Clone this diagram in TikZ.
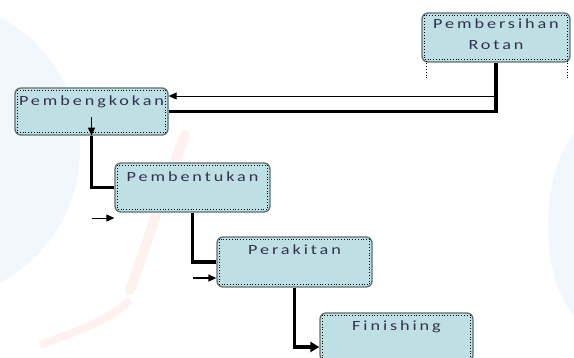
\documentclass[tikz,border=0pt]{standalone}
\usepackage{fontspec}
\setmainfont{Carlito}
\newfontfamily\boxfont[LetterSpace=16]{Carlito}
\usetikzlibrary{arrows.meta}
\definecolor{boxfill}{HTML}{BEE0E4}
\definecolor{boxline}{HTML}{5E6F70}
\definecolor{txtcol}{HTML}{35304F}
\definecolor{wmblue}{HTML}{F2F6FD}
\definecolor{wmorange}{HTML}{FDF2EF}
\newcommand{\bxt}[1]{\scalebox{1.3}[1]{#1}}
\tikzset{
  proc/.style={draw=boxline, line width=1.3pt, rounded corners=6pt, fill=boxfill, inner sep=0pt},
  inner/.style={dotted, line width=0.8pt, black},
  txt/.style={font=\boxfont\fontsize{14}{16}\selectfont, text=txtcol, inner sep=0pt},
  flow/.style={line width=3.6pt, black},
  thinarrow/.style={line width=0.9pt, black, -{Triangle[length=8pt,width=7pt]}},
  flowarrow/.style={line width=3.6pt, black, -{Triangle[length=9pt,width=10pt]}}
}
\begin{document}
\begin{tikzpicture}[x=1pt,y=-1pt]
\useasboundingbox (0,0) rectangle (574,358);
% faint background watermark
\fill[wmblue] (-70,150) circle (150);
\fill[wmblue] (600,225) ellipse [x radius=52, y radius=105];
\draw[wmorange, line width=10pt, line cap=round] (185,135) .. controls (160,200) and (145,250) .. (130,290);
\draw[wmorange, line width=8pt] (40,345) .. controls (80,330) and (110,320) .. (130,300);
% boxes
\node[proc, minimum width=148pt, minimum height=49pt] (b1) at (496,37.5) {};
\node[proc, minimum width=153pt, minimum height=47pt] (b2) at (91.5,111.5) {};
\node[proc, minimum width=155pt, minimum height=49pt] (b3) at (192.5,187.5) {};
\node[proc, minimum width=155pt, minimum height=50pt] (b4) at (294.5,262) {};
\node[proc, minimum width=153pt, minimum height=48pt] (b5) at (396.5,337) {};
% inner dotted frames
\foreach \b in {b1,b2,b3,b4,b5}{
  \draw[inner] ([shift={(3,3)}]\b.north west) rectangle ([shift={(-3,-3)}]\b.south east);
}
\coordinate (d1) at ([shift={(5,-2)}]b1.south west);
\coordinate (d2) at ([shift={(-3,-2)}]b1.south east);
\draw[inner] (d1) -- ++(0,17);
\draw[inner] (d2) -- ++(0,17);
% texts
\node[txt] (t1a) at ([yshift=-11pt]b1.north) {\bxt{Pembersihan}};
\node[txt] (t1b) at ([yshift=-33pt]b1.north) {\bxt{Rotan}};
\node[txt] (t2) at ([yshift=-14pt]b2.north) {\bxt{Pembengkokan}};
\node[txt] (t3) at ([yshift=-14pt]b3.north) {\bxt{Pembentukan}};
\node[txt] (t4) at ([yshift=-13pt]b4.north) {\bxt{Perakitan}};
\node[txt] (t5) at ([yshift=-14pt]b5.north) {\bxt{Finishing}};
% connectors
\draw[flow] (b1.south) |- (b2.east);
\coordinate (c1) at (b1.south |- 0,96);
\draw[thinarrow] (c1) -- (c1 -| b2.east);
\coordinate (a2) at (b2.south |- 0,117);
\draw[thinarrow] (a2) -- (b2.south);
\draw[flow] (b2.south) |- (b3.west);
\coordinate (a3) at (92,218);
\draw[thinarrow] (a3) -- (a3 -| b3.west);
\draw[flow] (b3.south) |- (b4.west);
\coordinate (a4) at (193,278);
\draw[thinarrow, line width=1.3pt] (a4) -- (a4 -| b4.west);
\coordinate (k5) at (b4.south |- 0,347);
\draw[flowarrow] (b4.south) -- (k5) -- (k5 -| b5.west);
\end{tikzpicture}
\end{document}
